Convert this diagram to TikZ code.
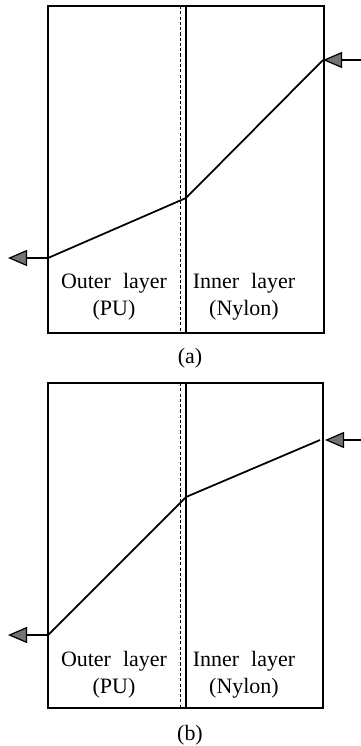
\documentclass[tikz,border=0pt]{standalone}
\usepackage{fontspec}
\setmainfont{Liberation Serif}[WordSpace=2.2]
\usetikzlibrary{arrows.meta}
\tikzset{
  wall/.style={draw, line width=0.6pt},
  iface/.style={draw, line width=0.5pt, dash pattern=on 1.8pt off 1.2pt},
  prof/.style={draw, line width=1pt},
  flux/.style={draw, line width=0.7pt, -{Triangle[length=3.8mm, width=3.2mm, fill=black!55]}},
  lbl/.style={font=\fontsize{12.5}{15.5}\selectfont, align=center, inner sep=0pt},
  subcap/.style={font=\fontsize{12.5}{14}\selectfont, inner sep=0pt}
}
\begin{document}
\begin{tikzpicture}
\useasboundingbox (0,0) rectangle (7.22,-14.92);
% (a)
\draw[wall] (0.96,-0.12) rectangle (6.48,-6.66);
\draw[wall] (3.72,-0.12) -- (3.72,-6.66);
\draw[iface] (3.60,-0.12) -- (3.60,-6.66);
\coordinate (a-in) at (6.46,-1.20);
\coordinate (a-mid) at (3.72,-3.96);
\coordinate (a-out) at (0.96,-5.16);
\coordinate (a-src) at (7.22,-1.20);
\coordinate (a-sink) at (0.16,-5.16);
\draw[prof] (a-in) -- (a-mid) -- (a-out);
\draw[flux] (a-src) -- (a-in);
\draw[flux] (a-out) -- (a-sink);
\node[lbl] (a-pu) at (2.28,-5.93) {Outer layer\\(PU)};
\node[lbl] (a-ny) at (4.88,-5.93) {Inner layer\\(Nylon)};
\node[subcap] (a-cap) at (3.80,-7.16) {(a)};
% (b)
\draw[wall] (0.96,-7.66) rectangle (6.46,-14.16);
\draw[wall] (3.72,-7.66) -- (3.72,-14.16);
\draw[iface] (3.60,-7.66) -- (3.60,-14.16);
\coordinate (b-in) at (6.40,-8.80);
\coordinate (b-mid) at (3.72,-9.94);
\coordinate (b-out) at (0.96,-12.70);
\coordinate (b-src) at (7.22,-8.80);
\coordinate (b-tip) at (6.50,-8.80);
\coordinate (b-sink) at (0.16,-12.70);
\draw[prof] (b-in) -- (b-mid) -- (b-out);
\draw[flux] (b-src) -- (b-tip);
\draw[flux] (b-out) -- (b-sink);
\node[lbl] (b-pu) at (2.28,-13.50) {Outer layer\\(PU)};
\node[lbl] (b-ny) at (4.88,-13.50) {Inner layer\\(Nylon)};
\node[subcap] (b-cap) at (3.80,-14.70) {(b)};
\end{tikzpicture}
\end{document}
